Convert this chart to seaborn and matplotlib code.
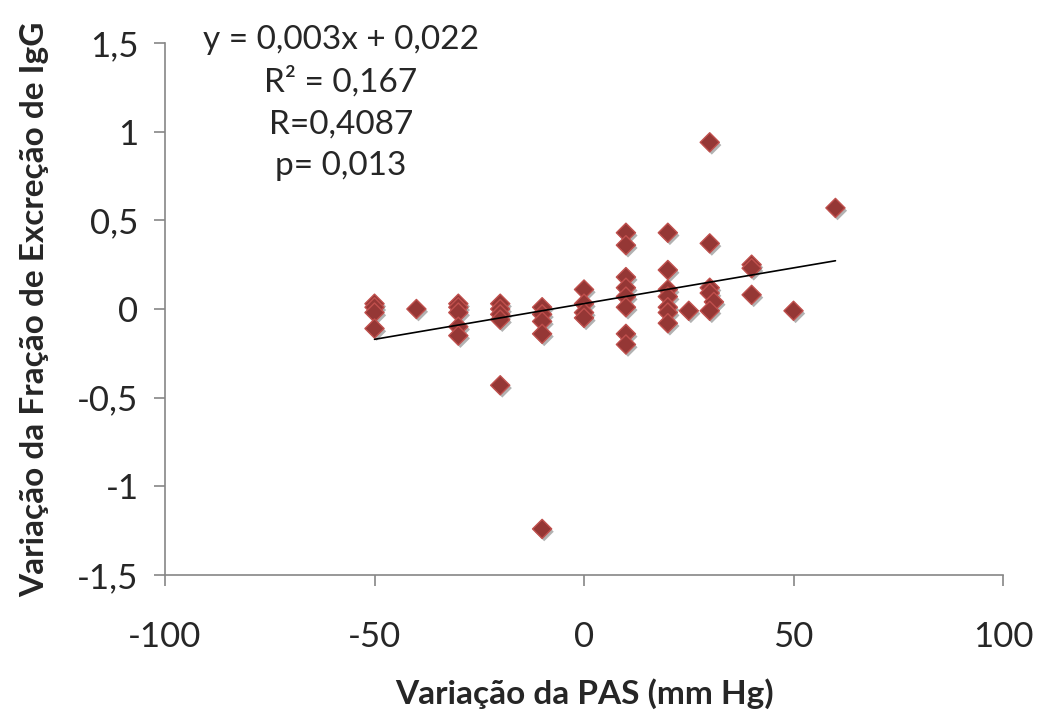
import numpy as np
import pandas as pd
import matplotlib
matplotlib.use("Agg")
import matplotlib.pyplot as plt
import matplotlib.patheffects as pe
import seaborn as sns

# variacao da PAS (mm Hg) e variacao da fracao de excrecao de IgG
pas = [-50, -50, -50, -50,
       -40,
       -30, -30, -30, -30, -30,
       -20, -20, -20, -20, -20,
       -10, -10, -10, -10, -10,
       0, 0, 0, 0,
       10, 10, 10, 10, 10, 10, 10, 10,
       20, 20, 20, 20, 20, 20, 20,
       25,
       30, 30, 30, 30, 31, 30,
       40, 40, 40,
       50,
       60]
igg = [0.03, 0.01, -0.02, -0.11,
       0.0,
       0.03, 0.01, -0.02, -0.10, -0.15,
       0.03, 0.0, -0.03, -0.06, -0.43,
       0.01, -0.03, -0.07, -0.14, -1.24,
       0.11, 0.03, -0.02, -0.05,
       0.43, 0.36, 0.18, 0.12, 0.07, 0.01, -0.14, -0.20,
       0.43, 0.22, 0.11, 0.07, 0.01, -0.02, -0.08,
       -0.01,
       0.94, 0.37, 0.12, 0.09, 0.04, -0.01,
       0.25, 0.23, 0.08,
       -0.01,
       0.57]

eq_lines = ["y = 0,003x + 0,022", "R² = 0,167", "R=0,4087", "p= 0,013"]

df = pd.DataFrame({"pas": pas, "igg": igg})

sns.set_style("white")
plt.rcParams["font.family"] = ["Lato", "DejaVu Sans"]

fig = plt.figure(figsize=(10.39, 7.13), dpi=100)
ax = fig.add_axes([0.1588, 0.1935, 0.8066, 0.7462])

sns.scatterplot(data=df, x="pas", y="igg", marker="D", s=95,
                color="#953735", edgecolor="#c0504d", linewidth=1.0,
                ax=ax, zorder=3)
ax.collections[0].set_path_effects([
    pe.SimplePatchShadow(offset=(1.5, -2), shadow_rgbFace="black", alpha=0.3),
    pe.Normal()])

# linha de tendencia
coef = np.polyfit(df["pas"], df["igg"], 1)
xl = np.array([df["pas"].min(), df["pas"].max()])
ax.plot(xl, np.polyval(coef, xl), color="black", lw=1.2, zorder=4)

ax.set_xlim(-100, 100)
ax.set_ylim(-1.5, 1.5)
ax.set_xticks([-100, -50, 0, 50, 100])
ax.set_yticks([-1.5, -1, -0.5, 0, 0.5, 1, 1.5])
ax.set_yticklabels(["-1,5", "-1", "-0,5", "0", "0,5", "1", "1,5"])
ax.set_xticklabels(["-100", "-50", "0", "50", "100"])

for s in ["top", "right"]:
    ax.spines[s].set_visible(False)
for s in ["left", "bottom"]:
    ax.spines[s].set_color("#868686")
    ax.spines[s].set_linewidth(1.2)
ax.tick_params(axis="both", direction="out", length=8, width=1.2,
               color="#868686", labelsize=25, left=True, bottom=True)
ax.tick_params(axis="y", pad=11)
ax.tick_params(axis="x", pad=25)

ax.set_xlabel("Variação da PAS (mm Hg)", fontsize=24, fontweight="bold", labelpad=18)
ax.set_ylabel("Variação da Fração de Excreção de IgG", fontsize=24,
              fontweight="bold", labelpad=20)

for i, t in enumerate(eq_lines):
    fig.text(0.328, 0.944 - i * 0.059, t, fontsize=24, ha="center", va="center")

fig.savefig("out.png", dpi=100, facecolor="white")
